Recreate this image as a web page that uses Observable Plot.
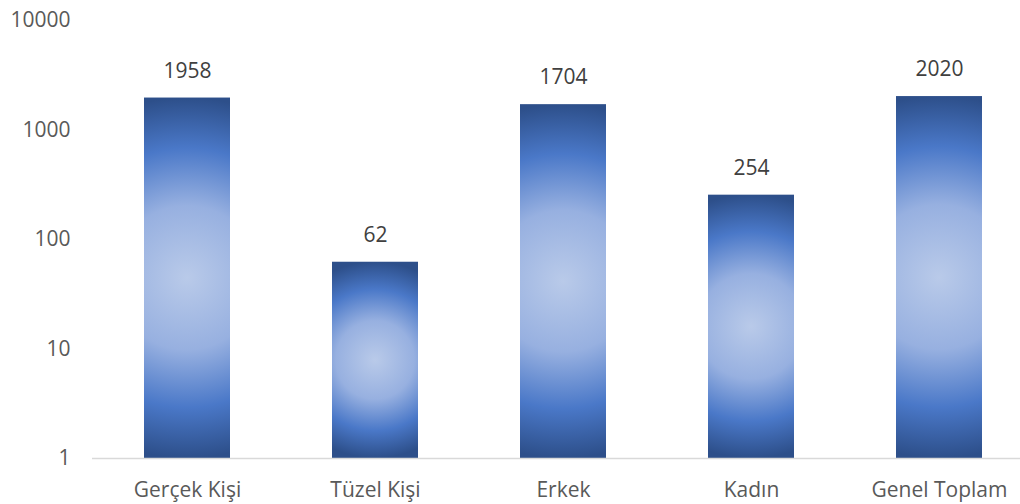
<!DOCTYPE html>
<html><head><meta charset="utf-8">
<script src="https://cdn.jsdelivr.net/npm/d3@7"></script>
<script src="https://cdn.jsdelivr.net/npm/@observablehq/plot@0.6"></script>
<style>
html,body{margin:0;padding:0;background:#fff;}
#chart svg{display:block;}
</style>
</head><body>
<div id="chart"></div>
<script>
const categories = ["Gerçek Kişi", "Tüzel Kişi", "Erkek", "Kadın", "Genel Toplam"];
const values = [1958, 62, 1704, 254, 2020];
const yTicks = [1, 10, 100, 1000, 10000];

const data = categories.map((c, i) => ({category: c, value: values[i]}));
const FONT = "'Open Sans', sans-serif";

const chart = Plot.plot({
  width: 1020,
  height: 504,
  marginLeft: 92,
  marginRight: 0,
  marginTop: 20,
  marginBottom: 46,
  style: {fontFamily: FONT, fontSize: "21px", color: "#595959", background: "#fff"},
  x: {domain: categories, range: [92, 1033], paddingInner: 0.543, paddingOuter: 0.2715, label: null},
  y: {type: "log", domain: [1, 10000], label: null},
  marks: [
    Plot.barY(data, {x: "category", y1: 1, y2: "value", fill: "#4472c4", className: "bars"}),
    Plot.ruleY([1], {stroke: "#d9d9d9", strokeWidth: 1.5}),
    Plot.text(data, {x: "category", y: "value", text: d => String(d.value), dy: -27, fill: "#404040", fontSize: 21}),
    Plot.axisY({ticks: yTicks, tickFormat: d => String(d), tickSize: 0, tickPadding: 22, fontSize: 21, fill: "#595959", label: null}),
    Plot.axisX({tickSize: 0, tickPadding: 24, fontSize: 21, fill: "#595959", label: null})
  ]
});
document.getElementById("chart").appendChild(chart);

// radial gradient per bar, positioned from the rendered bar geometry
const svg = d3.select(chart);
const defs = svg.insert("defs", ":first-child");
svg.selectAll("g.bars rect").each(function(d, i) {
  const r = d3.select(this);
  const x = +r.attr("x"), y = +r.attr("y"), w = +r.attr("width"), h = +r.attr("height");
  const id = "grad" + i;
  const g = defs.append("radialGradient").attr("id", id)
    .attr("gradientUnits", "userSpaceOnUse")
    .attr("cx", x + w / 2).attr("cy", y + h / 2).attr("r", h / 2);
  g.append("stop").attr("offset", "0").attr("stop-color", "#b9cae9");
  g.append("stop").attr("offset", "0.4").attr("stop-color", "#97b0e0");
  g.append("stop").attr("offset", "0.72").attr("stop-color", "#4a78c8");
  g.append("stop").attr("offset", "1").attr("stop-color", "#2d4f8a");
  r.attr("fill", `url(#${id})`);
});
</script>
</body></html>
